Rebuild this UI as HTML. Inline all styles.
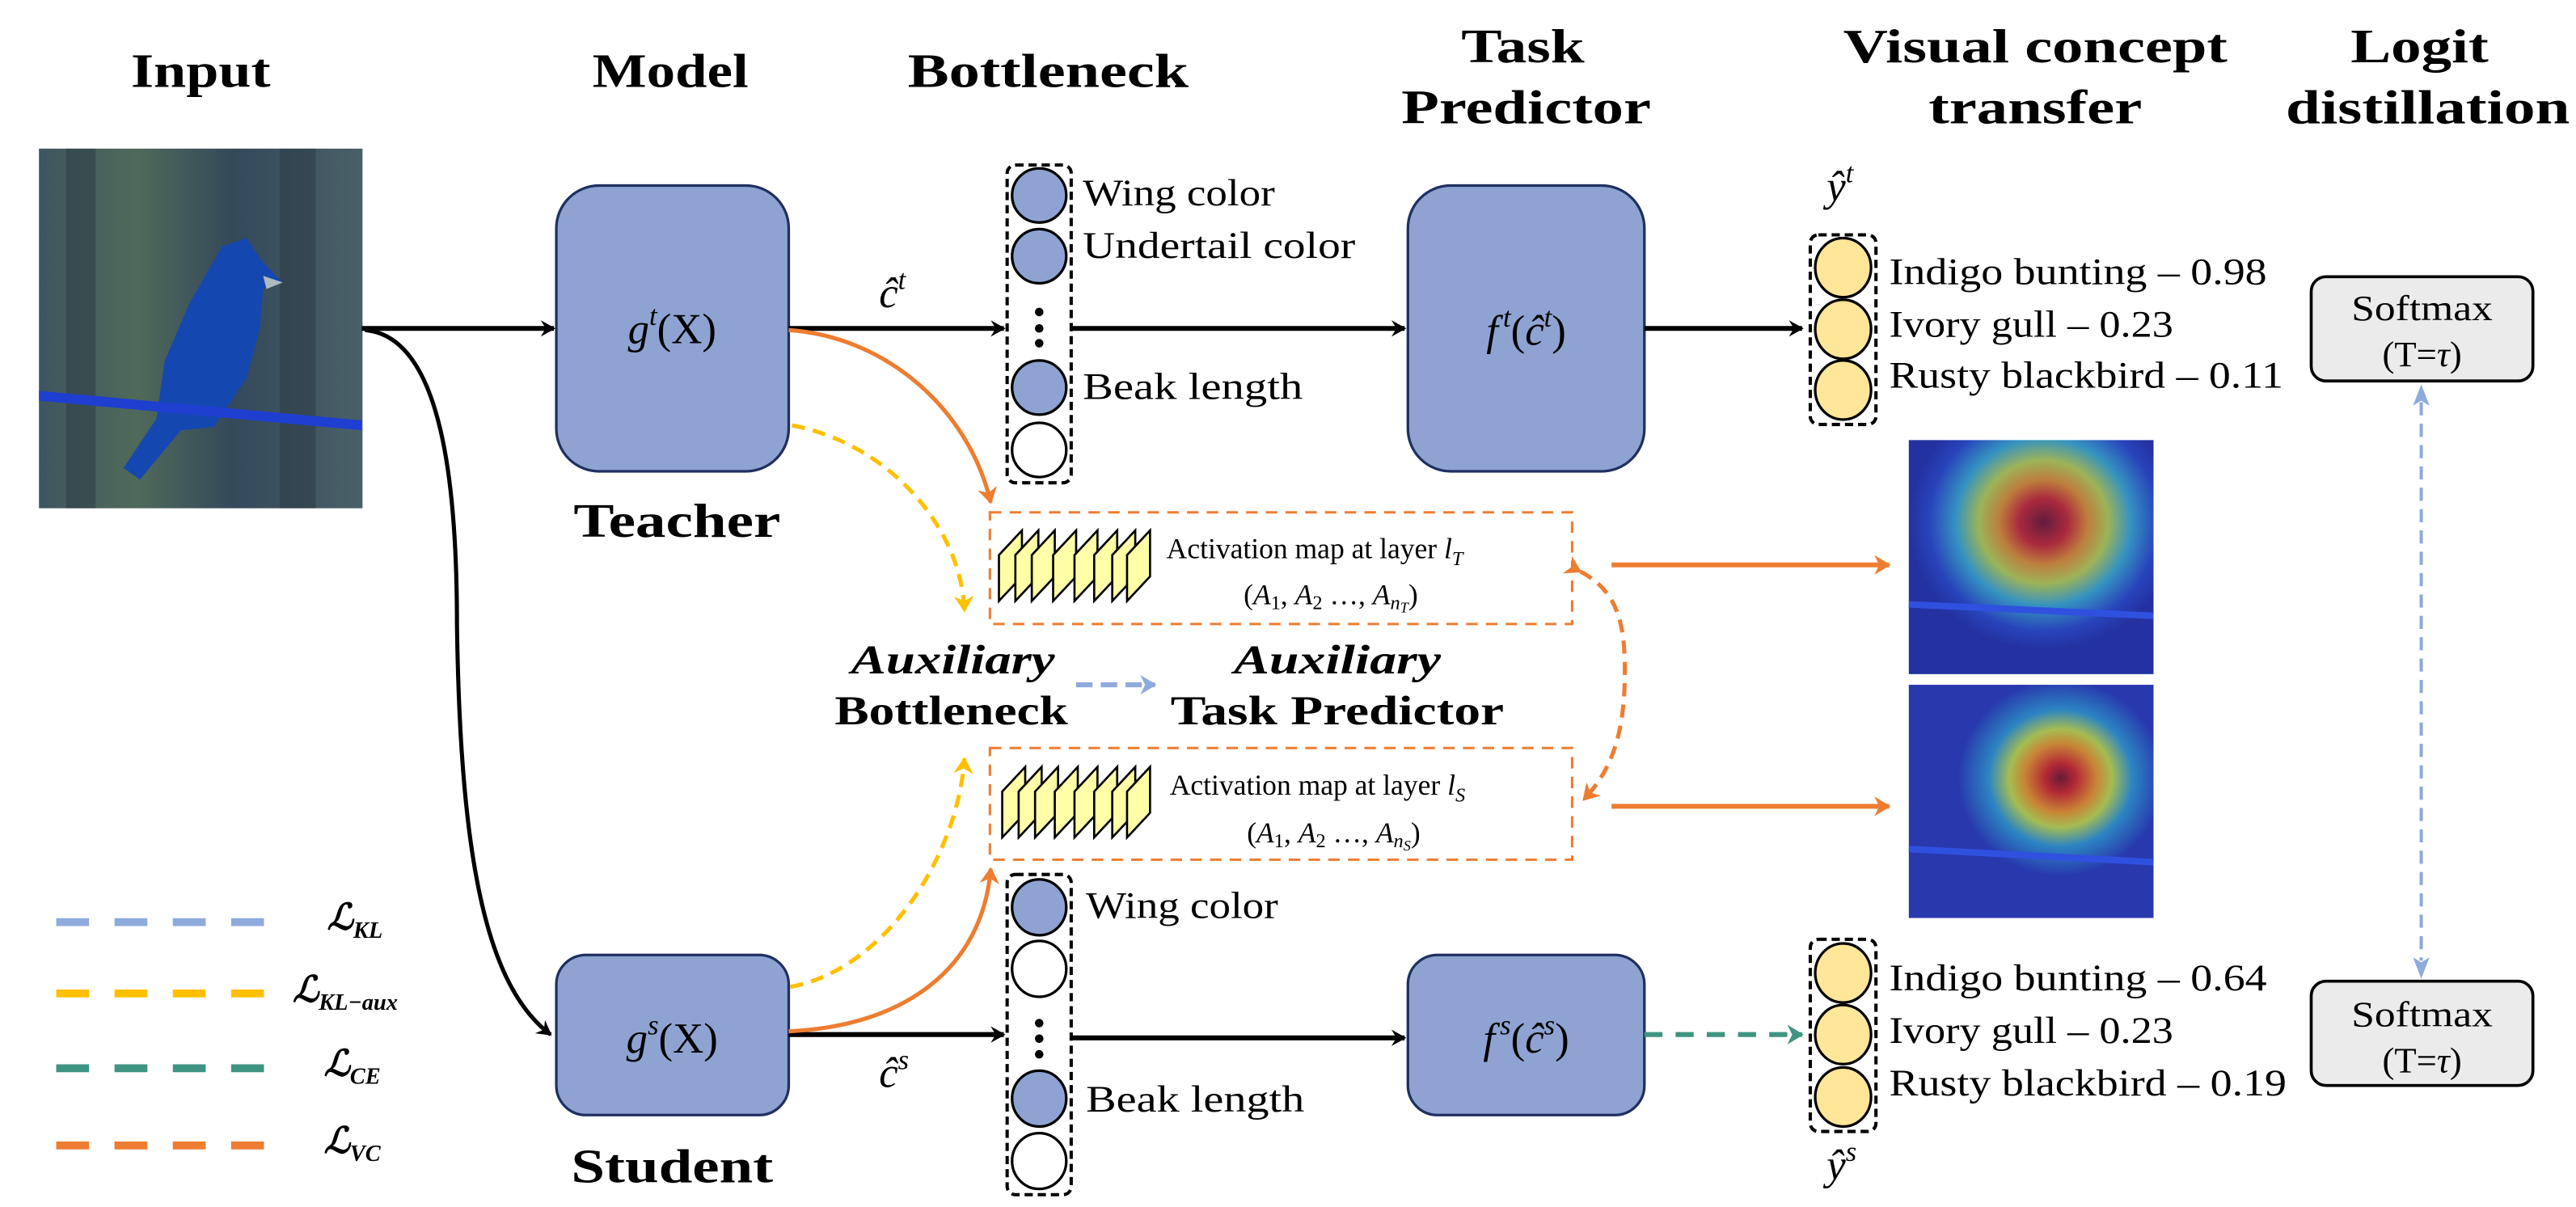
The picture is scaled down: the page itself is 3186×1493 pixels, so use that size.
<!DOCTYPE html>
<html><head><meta charset="utf-8"><style>
html,body{margin:0;padding:0;background:#fff;}
svg{display:block;}
text{font-family:"Liberation Serif","DejaVu Serif",serif;fill:#000;}
.h{font-weight:bold;font-size:29px;}
.lab{font-size:23px;}
.cls{font-size:23px;}
.m{font-size:26px;}
.act{font-size:17.5px;}
.sm{font-size:22px;}
</style></head><body>
<svg width="3186" height="1493" viewBox="0 0 1568 735" xmlns="http://www.w3.org/2000/svg">
<defs>
<marker id="ab" markerWidth="10" markerHeight="10" refX="8" refY="5" orient="auto" markerUnits="userSpaceOnUse"><path d="M0,0 L9,5 L0,10 L3,5 Z" fill="#000"/></marker>
<marker id="ao" markerWidth="12" markerHeight="12" refX="9" refY="6" orient="auto" markerUnits="userSpaceOnUse"><path d="M0,0 L10,6 L0,12 L3,6 Z" fill="#ed7d31"/></marker>
<marker id="ay" markerWidth="12" markerHeight="12" refX="9" refY="6" orient="auto" markerUnits="userSpaceOnUse"><path d="M0,0 L10,6 L0,12 L3,6 Z" fill="#ffc000"/></marker>
<marker id="ag" markerWidth="12" markerHeight="12" refX="9" refY="6" orient="auto" markerUnits="userSpaceOnUse"><path d="M0,0 L10,6 L0,12 L3,6 Z" fill="#3e9480"/></marker>
<marker id="abl" markerWidth="12" markerHeight="12" refX="9" refY="6" orient="auto" markerUnits="userSpaceOnUse"><path d="M0,0 L10,6 L0,12 L3,6 Z" fill="#8faadc"/></marker>
<linearGradient id="bg" x1="0" y1="0" x2="1" y2="0">
<stop offset="0" stop-color="#3e5560"/><stop offset="0.3" stop-color="#4f6a5a"/><stop offset="0.6" stop-color="#34495a"/><stop offset="1" stop-color="#4a6068"/></linearGradient>
<radialGradient id="hm1" cx="0.55" cy="0.35" r="0.55">
<stop offset="0" stop-color="#701828"/><stop offset="0.18" stop-color="#c82828"/><stop offset="0.33" stop-color="#e09028"/><stop offset="0.48" stop-color="#b8d048"/><stop offset="0.65" stop-color="#3aa8c8"/><stop offset="0.85" stop-color="#2a48c0"/><stop offset="1" stop-color="#2432a0"/></radialGradient>
<radialGradient id="hm2" cx="0.62" cy="0.4" r="0.42">
<stop offset="0" stop-color="#701828"/><stop offset="0.15" stop-color="#c82828"/><stop offset="0.35" stop-color="#e09028"/><stop offset="0.5" stop-color="#b8d048"/><stop offset="0.7" stop-color="#2e90c8"/><stop offset="1" stop-color="#2a3ab0"/></radialGradient>
</defs>

<!-- headers -->
<text class="h" x="122" y="53" text-anchor="middle" textLength="85" lengthAdjust="spacingAndGlyphs">Input</text>
<text class="h" x="408" y="53" text-anchor="middle" textLength="95" lengthAdjust="spacingAndGlyphs">Model</text>
<text class="h" x="638" y="53" text-anchor="middle" textLength="171" lengthAdjust="spacingAndGlyphs">Bottleneck</text>
<text class="h" x="927" y="38" text-anchor="middle" textLength="75" lengthAdjust="spacingAndGlyphs">Task</text>
<text class="h" x="929" y="75" text-anchor="middle" textLength="152" lengthAdjust="spacingAndGlyphs">Predictor</text>
<text class="h" x="1239" y="38" text-anchor="middle" textLength="234" lengthAdjust="spacingAndGlyphs">Visual concept</text>
<text class="h" x="1239" y="75" text-anchor="middle" textLength="130" lengthAdjust="spacingAndGlyphs">transfer</text>
<text class="h" x="1473" y="38" text-anchor="middle" textLength="84" lengthAdjust="spacingAndGlyphs">Logit</text>
<text class="h" x="1478" y="75" text-anchor="middle" textLength="173" lengthAdjust="spacingAndGlyphs">distillation</text>

<!-- bird image -->
<rect x="23.5" y="90.5" width="197" height="219" fill="url(#bg)"/>
<rect x="40" y="90.5" width="18" height="219" fill="#2c3a44" opacity="0.5"/>
<rect x="170" y="90.5" width="22" height="219" fill="#2a3842" opacity="0.5"/>
<path d="M135,150 L150,145 L160,160 L172,172 L160,176 L158,200 L150,230 L130,260 L110,262 L85,292 L75,285 L95,255 L100,220 L115,185 Z" fill="#1448b0"/>
<path d="M160,168 L172,172 L162,176 Z" fill="#b0b8c0"/>
<path d="M23.5,238 L220,256 L220,262 L23.5,244 Z" fill="#1f3fd0"/>

<!-- arrows input -->
<line x1="220" y1="200" x2="337" y2="200" stroke="#000" stroke-width="3" marker-end="url(#ab)"/>
<path d="M222,201 C270,205 278,300 278,380 C280,520 295,600 335,630" fill="none" stroke="#000" stroke-width="2.5" marker-end="url(#ab)"/>

<!-- teacher / student boxes -->
<rect x="338.5" y="113" width="141.5" height="174" rx="26" fill="#8fa3d2" stroke="#1f3060" stroke-width="1.6"/>
<rect x="338.5" y="581.5" width="141.5" height="97.5" rx="18" fill="#8fa3d2" stroke="#1f3060" stroke-width="1.6"/>
<text class="m" x="409" y="209" text-anchor="middle"><tspan font-style="italic">g</tspan><tspan font-style="italic" font-size="17" dy="-11">t</tspan><tspan dy="11">(X)</tspan></text>
<text class="m" x="409" y="641" text-anchor="middle"><tspan font-style="italic">g</tspan><tspan font-style="italic" font-size="17" dy="-11">s</tspan><tspan dy="11">(X)</tspan></text>
<text class="h" x="412" y="327" text-anchor="middle" textLength="126" lengthAdjust="spacingAndGlyphs">Teacher</text>
<text class="h" x="409" y="720" text-anchor="middle" textLength="123" lengthAdjust="spacingAndGlyphs">Student</text>

<text class="m" x="535" y="187" font-style="italic">ĉ<tspan font-size="17" dy="-11">t</tspan></text>
<text class="m" x="535" y="662" font-style="italic">ĉ<tspan font-size="17" dy="-11">s</tspan></text>

<line x1="480" y1="200" x2="611" y2="200" stroke="#000" stroke-width="3" marker-end="url(#ab)"/>
<line x1="480" y1="630" x2="611" y2="630" stroke="#000" stroke-width="3" marker-end="url(#ab)"/>

<!-- bottleneck teacher -->
<rect x="613" y="100.5" width="39" height="193.5" rx="5" fill="none" stroke="#000" stroke-width="2" stroke-dasharray="5 3"/>
<ellipse cx="632.5" cy="119" rx="16.5" ry="16.5" fill="#8fa3d2" stroke="#000" stroke-width="1.6"/>
<ellipse cx="632.5" cy="156" rx="16.5" ry="16.5" fill="#8fa3d2" stroke="#000" stroke-width="1.6"/>
<circle cx="632.5" cy="190" r="2.6"/><circle cx="632.5" cy="200" r="2.6"/><circle cx="632.5" cy="209" r="2.6"/>
<ellipse cx="632.5" cy="236" rx="16.5" ry="16.5" fill="#8fa3d2" stroke="#000" stroke-width="1.6"/>
<ellipse cx="632.5" cy="274" rx="16.5" ry="16.5" fill="#fff" stroke="#000" stroke-width="1.6"/>
<text class="lab" x="659" y="125" textLength="117" lengthAdjust="spacingAndGlyphs">Wing color</text>
<text class="lab" x="659" y="157" textLength="166" lengthAdjust="spacingAndGlyphs">Undertail color</text>
<text class="lab" x="659" y="243" textLength="134" lengthAdjust="spacingAndGlyphs">Beak length</text>

<!-- bottleneck student -->
<rect x="613" y="532.5" width="39" height="195" rx="5" fill="none" stroke="#000" stroke-width="2" stroke-dasharray="5 3"/>
<ellipse cx="632.5" cy="552.5" rx="16.5" ry="17" fill="#8fa3d2" stroke="#000" stroke-width="1.6"/>
<ellipse cx="632.5" cy="590" rx="16.5" ry="17" fill="#fff" stroke="#000" stroke-width="1.6"/>
<circle cx="632.5" cy="623" r="2.6"/><circle cx="632.5" cy="632.5" r="2.6"/><circle cx="632.5" cy="642" r="2.6"/>
<ellipse cx="632.5" cy="669" rx="16.5" ry="17" fill="#8fa3d2" stroke="#000" stroke-width="1.6"/>
<ellipse cx="632.5" cy="707" rx="16.5" ry="17" fill="#fff" stroke="#000" stroke-width="1.6"/>
<text class="lab" x="661" y="559" textLength="117" lengthAdjust="spacingAndGlyphs">Wing color</text>
<text class="lab" x="661" y="677" textLength="133" lengthAdjust="spacingAndGlyphs">Beak length</text>

<line x1="652" y1="200" x2="855" y2="200" stroke="#000" stroke-width="3" marker-end="url(#ab)"/>
<line x1="652" y1="632" x2="855" y2="632" stroke="#000" stroke-width="3" marker-end="url(#ab)"/>

<!-- task predictor boxes -->
<rect x="857" y="113" width="144" height="174" rx="26" fill="#8fa3d2" stroke="#1f3060" stroke-width="1.6"/>
<rect x="857" y="581.5" width="144" height="97.5" rx="18" fill="#8fa3d2" stroke="#1f3060" stroke-width="1.6"/>
<text class="m" x="929" y="210" text-anchor="middle" font-style="italic">f<tspan font-size="17" dy="-11" dx="3">t</tspan><tspan dy="11" font-style="normal">(</tspan>ĉ<tspan font-size="17" dy="-11">t</tspan><tspan dy="11" font-style="normal">)</tspan></text>
<text class="m" x="929" y="641" text-anchor="middle" font-style="italic">f<tspan font-size="17" dy="-11" dx="3">s</tspan><tspan dy="11" font-style="normal">(</tspan>ĉ<tspan font-size="17" dy="-11">s</tspan><tspan dy="11" font-style="normal">)</tspan></text>

<!-- outputs -->
<line x1="1001" y1="200" x2="1097" y2="200" stroke="#000" stroke-width="3" marker-end="url(#ab)"/>
<line x1="1001" y1="630" x2="1097" y2="630" stroke="#3e9480" stroke-width="3" stroke-dasharray="11 8" marker-end="url(#ag)"/>

<text class="m" x="1112" y="122" font-style="italic">ŷ<tspan font-size="17" dy="-11">t</tspan></text>
<text class="m" x="1112" y="718" font-style="italic">ŷ<tspan font-size="17" dy="-11">s</tspan></text>

<rect x="1102" y="143" width="40" height="115.5" rx="5" fill="none" stroke="#000" stroke-width="2" stroke-dasharray="5 3"/>
<ellipse cx="1122" cy="163" rx="17" ry="18" fill="#ffe699" stroke="#000" stroke-width="1.6"/>
<ellipse cx="1122" cy="200.5" rx="17" ry="18" fill="#ffe699" stroke="#000" stroke-width="1.6"/>
<ellipse cx="1122" cy="237.5" rx="17" ry="18" fill="#ffe699" stroke="#000" stroke-width="1.6"/>
<text class="cls" x="1150" y="173" textLength="230" lengthAdjust="spacingAndGlyphs">Indigo bunting – 0.98</text>
<text class="cls" x="1150" y="205" textLength="173" lengthAdjust="spacingAndGlyphs">Ivory gull – 0.23</text>
<text class="cls" x="1150" y="236" textLength="240" lengthAdjust="spacingAndGlyphs">Rusty blackbird – 0.11</text>

<rect x="1102" y="572" width="40" height="117" rx="5" fill="none" stroke="#000" stroke-width="2" stroke-dasharray="5 3"/>
<ellipse cx="1122" cy="592.5" rx="17" ry="18" fill="#ffe699" stroke="#000" stroke-width="1.6"/>
<ellipse cx="1122" cy="630" rx="17" ry="18" fill="#ffe699" stroke="#000" stroke-width="1.6"/>
<ellipse cx="1122" cy="668" rx="17" ry="18" fill="#ffe699" stroke="#000" stroke-width="1.6"/>
<text class="cls" x="1150" y="603" textLength="230" lengthAdjust="spacingAndGlyphs">Indigo bunting – 0.64</text>
<text class="cls" x="1150" y="635" textLength="173" lengthAdjust="spacingAndGlyphs">Ivory gull – 0.23</text>
<text class="cls" x="1150" y="667" textLength="242" lengthAdjust="spacingAndGlyphs">Rusty blackbird – 0.19</text>

<!-- softmax -->
<rect x="1407" y="168.5" width="135" height="63.5" rx="9" fill="#ebebeb" stroke="#000" stroke-width="1.8"/>
<text class="sm" x="1474.5" y="195" text-anchor="middle" textLength="86" lengthAdjust="spacingAndGlyphs">Softmax</text>
<text class="sm" x="1474.5" y="223" text-anchor="middle">(T=<tspan font-style="italic">τ</tspan>)</text>
<rect x="1407" y="597.5" width="135" height="63.5" rx="9" fill="#ebebeb" stroke="#000" stroke-width="1.8"/>
<text class="sm" x="1474.5" y="625" text-anchor="middle" textLength="86" lengthAdjust="spacingAndGlyphs">Softmax</text>
<text class="sm" x="1474.5" y="653" text-anchor="middle">(T=<tspan font-style="italic">τ</tspan>)</text>
<line x1="1474" y1="245" x2="1474" y2="585" stroke="#8faadc" stroke-width="2" stroke-dasharray="8 5"/>
<path d="M1474,234 L1469,247 L1474,244 L1479,247 Z" fill="#8faadc"/>
<path d="M1474,596 L1469,583 L1474,586 L1479,583 Z" fill="#8faadc"/>

<!-- activation boxes -->
<rect x="602.5" y="312" width="354.5" height="68" fill="none" stroke="#ed7d31" stroke-width="1.5" stroke-dasharray="7 5"/>
<rect x="602.5" y="455.5" width="354.5" height="68" fill="none" stroke="#ed7d31" stroke-width="1.5" stroke-dasharray="7 5"/>
<g fill="#ffffa8" stroke="#000" stroke-width="1.3">
<polygon points="608,366 608,338 622,323 622,351"/>
<polygon points="618,366 618,338 632,323 632,351"/>
<polygon points="628,366 628,338 642,323 642,351"/>
<polygon points="641,366 641,338 655,323 655,351"/>
<polygon points="654,366 654,338 668,323 668,351"/>
<polygon points="666,366 666,338 680,323 680,351"/>
<polygon points="677,366 677,338 691,323 691,351"/>
<polygon points="686,366 686,338 700,323 700,351"/>
<polygon points="610,510 610,482 624,467 624,495"/>
<polygon points="620,510 620,482 634,467 634,495"/>
<polygon points="630,510 630,482 644,467 644,495"/>
<polygon points="642,510 642,482 656,467 656,495"/>
<polygon points="654,510 654,482 668,467 668,495"/>
<polygon points="666,510 666,482 680,467 680,495"/>
<polygon points="677,510 677,482 691,467 691,495"/>
<polygon points="686,510 686,482 700,467 700,495"/>
</g>
<text class="act" x="710" y="340">Activation map at layer <tspan font-style="italic">l</tspan><tspan font-style="italic" font-size="12" dy="4">T</tspan></text>
<text class="act" x="757" y="368">(<tspan font-style="italic">A</tspan><tspan font-size="12" dy="3">1</tspan><tspan dy="-3">, </tspan><tspan font-style="italic">A</tspan><tspan font-size="12" dy="3">2</tspan><tspan dy="-3"> …, </tspan><tspan font-style="italic">A</tspan><tspan font-style="italic" font-size="12" dy="3">n</tspan><tspan font-style="italic" font-size="9" dy="2">T</tspan><tspan dy="-5">)</tspan></text>
<text class="act" x="712" y="484">Activation map at layer <tspan font-style="italic">l</tspan><tspan font-style="italic" font-size="12" dy="4">S</tspan></text>
<text class="act" x="759" y="513">(<tspan font-style="italic">A</tspan><tspan font-size="12" dy="3">1</tspan><tspan dy="-3">, </tspan><tspan font-style="italic">A</tspan><tspan font-size="12" dy="3">2</tspan><tspan dy="-3"> …, </tspan><tspan font-style="italic">A</tspan><tspan font-style="italic" font-size="12" dy="3">n</tspan><tspan font-style="italic" font-size="9" dy="2">S</tspan><tspan dy="-5">)</tspan></text>

<!-- auxiliary labels -->
<text x="580" y="410" text-anchor="middle" font-size="25" font-weight="bold" font-style="italic" textLength="124" lengthAdjust="spacingAndGlyphs">Auxiliary</text>
<text x="579" y="441" text-anchor="middle" font-size="25" font-weight="bold" textLength="142" lengthAdjust="spacingAndGlyphs">Bottleneck</text>
<text x="814" y="410" text-anchor="middle" font-size="25" font-weight="bold" font-style="italic" textLength="126" lengthAdjust="spacingAndGlyphs">Auxiliary</text>
<text x="814" y="441" text-anchor="middle" font-size="25" font-weight="bold" textLength="203" lengthAdjust="spacingAndGlyphs">Task Predictor</text>
<line x1="655" y1="417" x2="703" y2="417" stroke="#8faadc" stroke-width="3" stroke-dasharray="10 5" marker-end="url(#abl)"/>

<!-- orange/yellow curves -->
<path d="M480,201 C540,205 590,250 603,306" fill="none" stroke="#ed7d31" stroke-width="2.5" marker-end="url(#ao)"/>
<path d="M482,259 C540,270 585,320 587,372" fill="none" stroke="#ffc000" stroke-width="2.5" stroke-dasharray="8 5" marker-end="url(#ay)"/>
<path d="M481,601 C540,590 583,520 587,462" fill="none" stroke="#ffc000" stroke-width="2.5" stroke-dasharray="8 5" marker-end="url(#ay)"/>
<path d="M480,628 C550,625 598,590 603,529" fill="none" stroke="#ed7d31" stroke-width="2.5" marker-end="url(#ao)"/>

<!-- heatmaps -->
<rect x="1162" y="268" width="149" height="142.5" fill="url(#hm1)"/>
<rect x="1162" y="268" width="149" height="142.5" fill="#2030a0" opacity="0.18"/>
<path d="M1162,368 L1311,375" stroke="#3050e0" stroke-width="4"/>
<rect x="1162" y="417" width="149" height="142" fill="url(#hm2)"/>
<rect x="1162" y="417" width="149" height="142" fill="#2030a0" opacity="0.12"/>
<path d="M1162,517 L1311,525" stroke="#3050e0" stroke-width="4"/>

<line x1="981" y1="344" x2="1150" y2="344" stroke="#ed7d31" stroke-width="3" marker-end="url(#ao)"/>
<line x1="981" y1="491" x2="1150" y2="491" stroke="#ed7d31" stroke-width="3" marker-end="url(#ao)"/>
<path d="M962,348 C985,360 990,380 989,416 C988,450 980,470 964,487" fill="none" stroke="#ed7d31" stroke-width="2.5" stroke-dasharray="8 5" marker-start="url(#ao)" marker-end="url(#ao)"/>

<!-- legend -->
<g stroke-width="4.8" stroke-dasharray="20 15.5">
<line x1="34" y1="561.5" x2="162" y2="561.5" stroke="#8faadc"/>
<line x1="34" y1="605" x2="162" y2="605" stroke="#ffc000"/>
<line x1="34" y1="650.5" x2="162" y2="650.5" stroke="#3e9480"/>
<line x1="34" y1="697.5" x2="162" y2="697.5" stroke="#ed7d31"/>
</g>
<g font-size="22" font-weight="bold" font-style="italic">
<text x="199" y="566">ℒ<tspan font-size="14" dy="5">KL</tspan></text>
<text x="178" y="610">ℒ<tspan font-size="14" dy="5">KL−aux</tspan></text>
<text x="197" y="655">ℒ<tspan font-size="14" dy="5">CE</tspan></text>
<text x="197" y="702">ℒ<tspan font-size="14" dy="5">VC</tspan></text>
</g>
</svg>
</body></html>
